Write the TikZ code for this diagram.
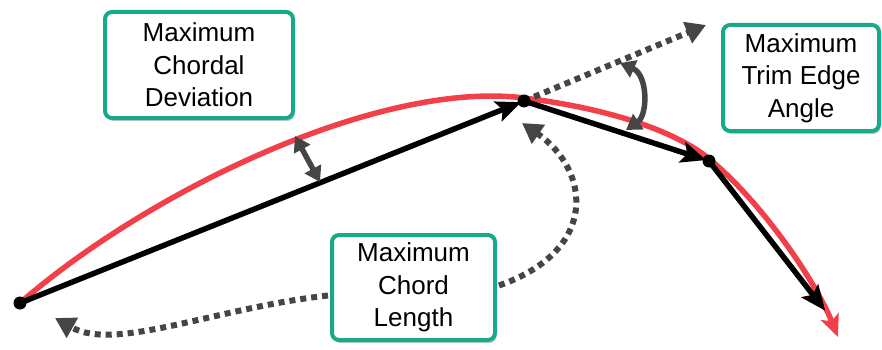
\documentclass[tikz,border=0pt]{standalone}
\usepackage{fontspec}
\setmainfont{Liberation Sans}
\usetikzlibrary{arrows.meta,shadows}
\definecolor{teal1}{HTML}{16AA8A}
\definecolor{redc}{HTML}{F2404A}
\definecolor{grayc}{HTML}{454545}
\tikzset{
  x=1pt, y=-1pt,
  labelbox/.style={draw=teal1, line width=4pt, fill=white, rounded corners=7pt,
    align=center, inner sep=0pt, font=\fontsize{26}{32.5}\selectfont,
    drop shadow={shadow xshift=1.5pt, shadow yshift=-3pt, opacity=0.3, fill=black!70}},
  vdot/.style={circle, fill=black, inner sep=0pt, minimum size=13pt},
  chord/.style={line width=5.5pt, black, -{Stealth[length=25pt,width=21pt,inset=5pt]}, shorten >=3pt},
  redcurve/.style={line width=5.5pt, redc, -{Stealth[length=22pt,width=19pt,inset=5pt]}},
  dotarrow/.style={line width=6pt, grayc, dash pattern=on 6pt off 5pt,
    -{Triangle[length=20pt,width=22pt]}},
  graydbl/.style={line width=5.5pt, grayc, {Triangle[length=15pt,width=18pt]}-{Triangle[length=15pt,width=18pt]}}
}
\begin{document}
\begin{tikzpicture}
\useasboundingbox (0,0) rectangle (882,350);
% points
\coordinate (p0) at (20,303);
\coordinate (p1) at (524,101);
\coordinate (p2) at (709,161);
\coordinate (p3) at (827,313);
\coordinate (ext) at (706,25);
% red curve
\draw[redcurve] (20,303) .. controls (150,190) and (380,80) .. (524,98)
  .. controls (620,110) and (680,135) .. (708,158)
  .. controls (760,200) and (815,280) .. (838,337);
% chords
\draw[chord] (p0) -- (p1);
\draw[chord] (p1) -- (p2);
\draw[chord] (p2) -- (p3);
% dotted extension
\draw[dotarrow] (p1) -- (ext);
% vertex dots
\node[vdot] (d0) at (p0) {};
\node[vdot] (d1) at (p1) {};
\node[vdot] (d2) at (p2) {};
% boxes
\node[labelbox, minimum width=188pt, minimum height=106pt] (dev) at (199,65) {Maximum\\Chordal\\Deviation};
\node[labelbox, minimum width=156pt, minimum height=106pt] (trim) at (801,78) {Maximum\\Trim Edge\\Angle};
\node[labelbox, minimum width=163pt, minimum height=105pt] (len) at (413.5,287.5) {Maximum\\Chord\\Length};
% deviation arrow
\coordinate (devtop) at (295,136);
\coordinate (devbot) at (320,182);
\draw[graydbl] (devtop) -- (devbot);
% angle arc
\coordinate (angtop) at (620,63);
\coordinate (angbot) at (626,130);
\draw[graydbl] (angtop) .. controls (648,75) and (648,115) .. (angbot);
% chord length dotted arrows
\coordinate (lentip) at (522,123);
\coordinate (lefttip) at (55,318);
\draw[dotarrow] (len.east) ++(2,-2) .. controls (600,250) and (590,170) .. (lentip);
\draw[dotarrow] (len.west) ++(-2,8) .. controls (215,308) and (115,352) .. (lefttip);
\end{tikzpicture}
\end{document}
